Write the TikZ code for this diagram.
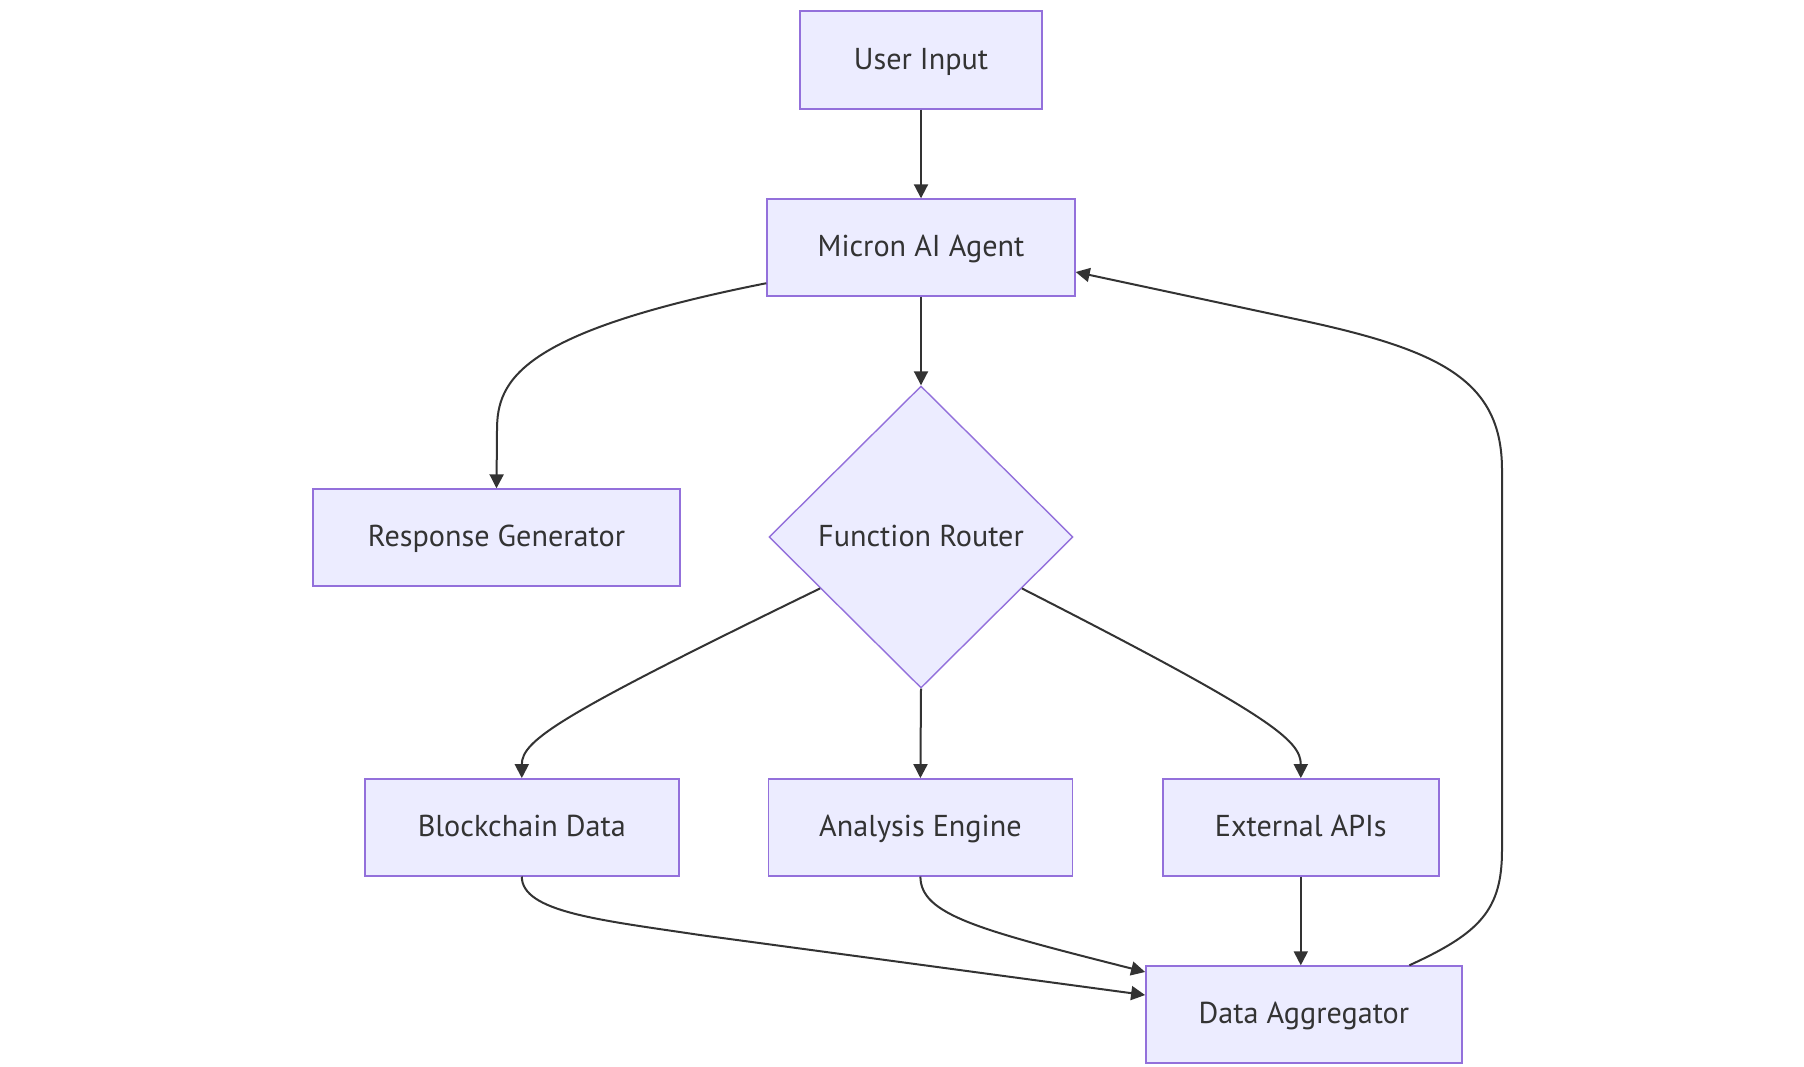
\documentclass[tikz,border=0pt]{standalone}
\usepackage{fontspec}
\setmainfont{PT Sans}
\usetikzlibrary{shapes.geometric,arrows.meta}
\definecolor{nodefill}{HTML}{ECECFF}
\definecolor{nodeline}{HTML}{9370DB}
\definecolor{edgecol}{HTML}{333333}
\begin{document}
\begin{tikzpicture}[x=1pt,y=-1pt,
  box/.style={draw=nodeline,fill=nodefill,line width=1.4pt,rectangle,inner sep=0pt,
    text=edgecol,font=\fontsize{30.2}{36}\selectfont,text height=20pt,text depth=2pt},
  decision/.style={draw=nodeline,fill=nodefill,line width=1.4pt,diamond,inner sep=0pt,
    minimum width=304pt,minimum height=302pt,text=edgecol,font=\fontsize{30.2}{36}\selectfont,
    text height=20pt,text depth=2pt},
  edge/.style={draw=edgecol,line width=2pt,-{Triangle[length=14pt,width=14pt]}}]
\useasboundingbox[fill=white] (0,0) rectangle (1804,1066);
\node[box,minimum width=242pt,minimum height=98pt] (user) at (921,60) {User Input};
\node[box,minimum width=308pt,minimum height=97pt] (agent) at (921,247.5) {Micron AI Agent};
\node[box,minimum width=367pt,minimum height=97pt] (resp) at (496.5,537.5) {Response Generator};
\node[decision] (router) at (921,537) {Function Router};
\node[box,minimum width=314pt,minimum height=97pt] (block) at (521.8,827.3) {Blockchain Data};
\node[box,minimum width=304pt,minimum height=97pt] (anal) at (920.4,827.3) {Analysis Engine};
\node[box,minimum width=276pt,minimum height=97pt] (ext) at (1300.8,827.3) {External APIs};
\node[box,minimum width=316pt,minimum height=97pt] (agg) at (1303.8,1014.5) {Data Aggregator};

\draw[edge] (user.south) -- (agent.north);
\draw[edge] (agent.south) -- (router.north);
\draw[edge] (agent.-167.4) .. controls (520,332) and (497,380) .. (497,430) -- (resp.north);
\draw[edge] (router.-153) .. controls (560,715) and (521.8,740) .. (block.north);
\draw[edge] (router.north |- router.south) -- (anal.north);
\draw[edge] (router.-27.7) .. controls (1270,715) and (1300.8,740) .. (ext.north);
\draw[edge] (block.south) .. controls (521.8,912) and (600,920) .. (700,935) -- (agg.173);
\draw[edge] (anal.south) .. controls (920.4,915) and (980,930) .. (agg.165.3);
\draw[edge] (ext.south) -- (agg.north -| ext.south);
\draw[edge] (agg.25.2) .. controls (1480,933) and (1502,910) .. (1502,850) -- (1502,470)
  .. controls (1502,380) and (1440,350) .. (1300,320) -- (agent.-9.4);
\end{tikzpicture}
\end{document}
